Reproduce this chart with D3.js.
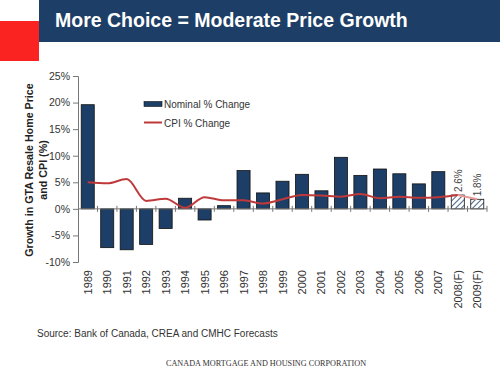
<!DOCTYPE html>
<html lang="en">
<head>
<meta charset="UTF-8">
<title>More Choice = Moderate Price Growth</title>
<script src="https://d3js.org/d3.v7.min.js"></script>
<style>
  body { margin: 0; background: #fff; }
  text { font-family: "Liberation Sans", Arial, sans-serif; }
</style>
</head>
<body>
<svg class="chart" width="500" height="376"></svg>
<script>
const years = ['1989','1990','1991','1992','1993','1994','1995','1996','1997','1998','1999',
  '2000','2001','2002','2003','2004','2005','2006','2007','2008(F)','2009(F)']
const nominal = [19.6,-7.3,-7.7,-6.7,-3.7,2.0,-2.1,0.6,7.2,3.0,5.2,6.5,3.4,9.7,6.3,7.5,6.6,4.7,7.0,2.6,1.8]
const cpi = [5.0,4.8,5.6,1.5,1.9,0.2,2.2,1.6,1.6,1.0,1.8,2.6,2.5,2.3,2.8,2.0,2.3,2.1,2.2,2.6,1.8]
const forecast = ['2008(F)','2009(F)']
const yTicks = [-10,-5,0,5,10,15,20,25]

const navy = '#1d3e66'
const red = '#c0393a'

const svg = d3.select('.chart')
const margin = { top: 76, right: 13, bottom: 114, left: 78 }
const width = +svg.attr('width')
const height = +svg.attr('height')
const innerWidth = width - margin.left - margin.right
const innerHeight = height - margin.top - margin.bottom

// header band
svg.append('rect').attr('x', 0).attr('y', 21).attr('width', 39).attr('height', 40).attr('fill', '#fb2222')
svg.append('rect').attr('x', 39).attr('y', 0).attr('width', 461).attr('height', 42).attr('fill', navy)
svg.append('text')
  .attr('x', 55).attr('y', 27)
  .attr('fill', '#fff')
  .attr('font-size', '19.5px')
  .attr('font-weight', 'bold')
  .text('More Choice = Moderate Price Growth')

// hatch pattern for forecasts
const pat = svg.append('defs').append('pattern')
  .attr('id', 'hatch').attr('patternUnits', 'userSpaceOnUse')
  .attr('width', 4).attr('height', 4)
  .attr('patternTransform', 'rotate(45)')
pat.append('rect').attr('width', 4).attr('height', 4).attr('fill', '#fff')
pat.append('line').attr('x1', 0).attr('y1', 0).attr('x2', 0).attr('y2', 4)
  .attr('stroke', navy).attr('stroke-width', 1.6)

const g = svg.append('g').attr('transform', `translate(${margin.left},${margin.top})`)

const x = d3.scaleBand().domain(years).range([0, innerWidth]).paddingInner(0.33).paddingOuter(0.165)
const y = d3.scaleLinear().domain([-10, 25]).range([innerHeight, 0])

// y axis
const yAxis = g.append('g')
  .call(d3.axisLeft(y).tickValues(yTicks).tickFormat(d => d + '%').tickSize(5).tickPadding(3))
yAxis.select('.domain').attr('stroke', '#777')
yAxis.selectAll('.tick line').attr('stroke', '#777')
yAxis.selectAll('.tick text').attr('font-size', '10.5px').attr('fill', '#333')
  .attr('font-family', '"Liberation Sans", Arial, sans-serif')

// bars
const data = years.map((d, i) => ({ year: d, value: nominal[i] }))
g.selectAll('rect.bar')
  .data(data)
  .enter()
  .append('rect')
  .attr('class', 'bar')
  .attr('x', d => x(d.year))
  .attr('y', d => y(Math.max(0, d.value)))
  .attr('width', x.bandwidth())
  .attr('height', d => Math.abs(y(d.value) - y(0)))
  .attr('fill', d => forecast.includes(d.year) ? 'url(#hatch)' : navy)
  .attr('stroke', '#111')
  .attr('stroke-width', 0.8)

// forecast value labels
g.selectAll('text.flabel')
  .data(data.filter(d => forecast.includes(d.year)))
  .enter()
  .append('text')
  .attr('class', 'flabel')
  .attr('transform', d => `translate(${x(d.year) + x.bandwidth() / 2 + 4},${y(d.value) - 3}) rotate(-90)`)
  .attr('font-size', '10px')
  .attr('fill', '#444')
  .text(d => d.value.toFixed(1) + '%')

// x axis at zero with crossing ticks between categories
const step = x.step()
const zeroG = g.append('g').attr('transform', `translate(0,${y(0)})`)
zeroG.append('line').attr('x1', 0).attr('x2', innerWidth).attr('stroke', '#777')
zeroG.selectAll('line.tk')
  .data(d3.range(1, years.length + 1))
  .enter()
  .append('line')
  .attr('class', 'tk')
  .attr('x1', i => i * step).attr('x2', i => i * step)
  .attr('y1', -3).attr('y2', 3)
  .attr('stroke', '#777')

// x labels below the plot
g.selectAll('text.xl')
  .data(years)
  .enter()
  .append('text')
  .attr('class', 'xl')
  .attr('transform', d => `translate(${x(d) + x.bandwidth() / 2 + 4},${innerHeight + 8}) rotate(-90)`)
  .attr('text-anchor', 'end')
  .attr('font-size', '11px')
  .attr('fill', '#333')
  .text(d => d)

// cpi line
const line = d3.line()
  .x((d, i) => x(years[i]) + x.bandwidth() / 2)
  .y(d => y(d))
  .curve(d3.curveMonotoneX)
g.append('path')
  .datum(cpi.slice(0, 20))
  .attr('d', line)
  .attr('fill', 'none')
  .attr('stroke', red)
  .attr('stroke-width', 2)
const lineLast = d3.line()
  .x((d, i) => x(years[19 + i]) + x.bandwidth() / 2)
  .y(d => y(d))
g.append('path')
  .datum(cpi.slice(19))
  .attr('d', lineLast)
  .attr('fill', 'none')
  .attr('stroke', '#e79a9a')
  .attr('stroke-width', 2)

// legend
const lg = svg.append('g').attr('transform', 'translate(144,0)')
lg.append('rect').attr('x', 0).attr('y', 101.5).attr('width', 18).attr('height', 5)
  .attr('fill', navy).attr('stroke', '#111').attr('stroke-width', 0.6)
lg.append('text').attr('x', 20).attr('y', 107.5).attr('font-size', '10px').attr('fill', '#333').text('Nominal % Change')
lg.append('line').attr('x1', 0).attr('x2', 18).attr('y1', 122.5).attr('y2', 122.5)
  .attr('stroke', red).attr('stroke-width', 2)
lg.append('text').attr('x', 20).attr('y', 126.5).attr('font-size', '10px').attr('fill', '#333').text('CPI % Change')

// y axis title
const yt = svg.append('text')
  .attr('transform', 'translate(33,170) rotate(-90)')
  .attr('text-anchor', 'middle')
  .attr('font-size', '10.7px')
  .attr('font-weight', 'bold')
  .attr('fill', '#222')
yt.append('tspan').attr('x', 0).attr('dy', 0).text('Growth in GTA Resale Home Price')
yt.append('tspan').attr('x', 0).attr('dy', 13.5).text('and CPI (%)')

// source and footer
svg.append('text')
  .attr('x', 37).attr('y', 337)
  .attr('font-size', '10px')
  .attr('fill', '#333')
  .text('Source: Bank of Canada, CREA and CMHC Forecasts')
svg.append('text')
  .attr('x', 266).attr('y', 366)
  .attr('text-anchor', 'middle')
  .attr('font-size', '8.2px')
  .attr('fill', '#333')
  .style('font-family', '"Liberation Serif", "Times New Roman", serif')
  .text('CANADA MORTGAGE AND HOUSING CORPORATION')
</script>
</body>
</html>
